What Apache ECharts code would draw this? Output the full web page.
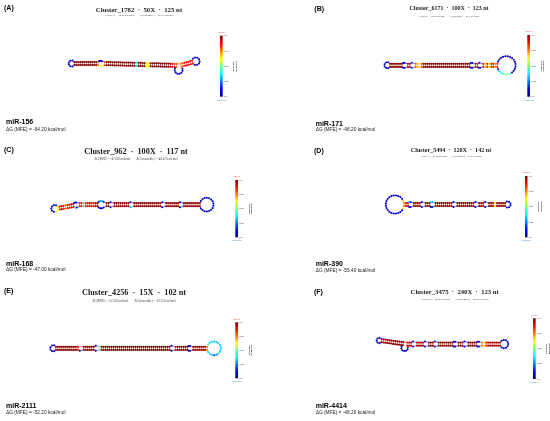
<!DOCTYPE html>
<html>
<head>
<meta charset="utf-8">
<title>Predicted precursor structures</title>
<script src="https://cdn.jsdelivr.net/npm/echarts@6/dist/echarts.min.js"></script>
<style>
  html, body { margin: 0; padding: 0; background: #fff; }
  #chart { width: 550px; height: 421px; }
</style>
</head>
<body>
<div id="chart"></div>
<script>
// ---- data ----
const panelLetters = ['(A)', '(B)', '(C)', '(D)', '(E)', '(F)'];
const mirNames = ['miR-156', 'miR-171', 'miR-168', 'miR-390', 'miR-2111', 'miR-4414'];
const clusters = ['Cluster_1782', 'Cluster_6171', 'Cluster_962', 'Cluster_5494', 'Cluster_4256', 'Cluster_3475'];
const depths = ['50X', '100X', '100X', '120X', '15X', '240X'];
const lengths = [125, 123, 117, 142, 102, 123];
const mfe = ['-64.20', '-48.20', '-47.00', '-55.40', '-52.20', '-48.20'];
const ensemble = ['-66.21', '-49.96', '-48.47', '-57.21', '-53.23', '-49.95'];
const barTicks = [0, 0.25, 0.5, 0.75, 1];
const barTickLabels = ['0.0', '0.25', '0.50', '0.75', '1.0'];

// structures, left to right along the helix
// ['end', nts, prob, {i: prob}]  ['stem', pairs, angle, prob, {i: prob}]
// ['loop', top nts, bottom nts, prob, {i: prob}]  ['side', nts, radius, prob]
const structA = [
  ['end', 6, 0.08],
  ['stem', 13, 0, 0.99, {12: 0.75}],
  ['loop', 4, 1, 0.08, {4: 0.62}],
  ['stem', 37, 1.5, 0.99, {0: 0.8, 16: 0.4, 21: 0.62, 22: 0.62, 34: 0.85, 35: 0.8, 36: 0.8}],
  ['side', 8, 4, 0.08],
  ['stem', 7, -15, 0.86, {0: 0.75, 1: 0.8}],
  ['end', 8, 0.08]
];
const structB = [
  ['end', 6, 0.08],
  ['stem', 7, 0, 0.99],
  ['loop', 2, 2, 0.1],
  ['stem', 2, 0, 0.95],
  ['loop', 1, 1, 0.15],
  ['stem', 28, 0, 0.99, {0: 0.8, 1: 0.7, 2: 0.62, 3: 0.8}],
  ['loop', 2, 2, 0.1],
  ['stem', 2, 0, 0.92],
  ['loop', 1, 2, 0.12],
  ['stem', 8, 0, 0.86, {1: 0.7, 3: 0.65, 6: 0.75}],
  ['end', 22, 0.08, {15: 0.45, 16: 0.5, 17: 0.5, 18: 0.45, 19: 0.4, 20: 0.35}]
];
const structC = [
  ['end', 7, 0.08, {6: 0.6}],
  ['stem', 9, -10, 0.86, {0: 0.62, 2: 0.95, 4: 0.75, 7: 0.95}],
  ['loop', 3, 2, 0.1, {3: 0.35}],
  ['stem', 10, 0, 0.86, {2: 0.4, 5: 0.95, 8: 0.97, 9: 0.97}],
  ['loop', 4, 4, 0.08, {1: 0.3, 2: 0.3}],
  ['stem', 2, 0, 0.98],
  ['loop', 1, 1, 0.08],
  ['stem', 8, 0, 0.98],
  ['loop', 1, 1, 0.08, {1: 0.3}],
  ['stem', 14, 0, 0.98],
  ['loop', 1, 1, 0.08],
  ['stem', 7, 0, 0.98],
  ['loop', 1, 1, 0.08],
  ['stem', 9, 0, 0.98],
  ['end', 16, 0.08]
];
const structD = [
  ['end', 22, 0.08, {0: 0.7, 21: 0.62}],
  ['stem', 3, 0, 0.92, {0: 0.75}],
  ['loop', 2, 2, 0.1, {0: 0.35}],
  ['stem', 4, 0, 0.98],
  ['loop', 1, 1, 0.08],
  ['stem', 3, 0, 0.98],
  ['loop', 2, 2, 0.1, {0: 0.35, 1: 0.3}],
  ['stem', 9, 0, 0.98],
  ['loop', 1, 1, 0.08],
  ['stem', 9, 0, 0.98],
  ['loop', 1, 1, 0.08],
  ['stem', 3, 0, 0.98],
  ['loop', 1, 1, 0.08],
  ['stem', 9, 0, 0.98, {3: 0.62}],
  ['end', 6, 0.08]
];
const structE = [
  ['end', 6, 0.05],
  ['stem', 12, 0, 0.99, {11: 0.88}],
  ['loop', 0, 1, 0.06],
  ['stem', 6, 0, 0.99],
  ['loop', 1, 1, 0.05],
  ['stem', 36, 0, 0.99, {0: 0.48}],
  ['loop', 1, 1, 0.06],
  ['stem', 7, 0, 0.99, {0: 0.88}],
  ['loop', 2, 2, 0.05],
  ['stem', 8, 0, 0.98, {7: 0.75}],
  ['end', 16, 0.33, {0: 0.45, 11: 0.25, 12: 0.2, 13: 0.3}]
];
const structF = [
  ['end', 5, 0.08],
  ['stem', 12, 8, 0.98],
  ['side', 7, 3.3, 0.08],
  ['stem', 3, 0, 0.92, {0: 0.85}],
  ['loop', 1, 1, 0.1],
  ['stem', 4, 0, 0.95],
  ['loop', 1, 1, 0.1],
  ['stem', 3, 0, 0.98],
  ['loop', 1, 1, 0.1],
  ['stem', 8, 0, 0.98],
  ['loop', 2, 2, 0.1],
  ['stem', 3, 0, 0.98],
  ['loop', 1, 1, 0.1],
  ['stem', 5, 0, 0.98],
  ['loop', 2, 2, 0.1],
  ['stem', 10, 0, 0.95, {0: 0.75, 1: 0.65, 2: 0.85}],
  ['end', 9, 0.08]
];
const structures = [structA, structB, structC, structD, structE, structF];

// ---- page layout (pixels) ----
const anchors = [[73.3, 63.5], [389, 65.3], [56.7, 208.5], [403, 204.5], [54.9, 348.3], [380.4, 340.5]];
const barBoxes = [[220, 35.7, 2.7, 61], [527.3, 35, 2.7, 61.7], [235.3, 180, 2.7, 57.3],
  [525, 176, 2.5, 61.3], [235.3, 322.3, 2.7, 56], [533, 318.3, 2.7, 60.7]];
const letterPos = [[4, 8.3], [314.3, 9], [4, 150], [314, 150.7], [4, 290.7], [314, 291.7]];
const titlePos = [[139, 10, 6.8], [449, 8.7, 6.0], [136, 152.3, 8.2], [451, 150.7, 6.1], [134, 293.3, 8.2], [454.7, 292.7, 6.7]];
const subY = [15.7, 16, 159.3, 156.7, 301, 299];
const mirPos = [[6, 121.7, 129.3], [315.7, 124, 130], [6, 264, 270], [315.7, 264, 271], [6, 406, 412.3], [315.7, 406, 412.7]];

const JET = ['#00007f', '#0000ff', '#007fff', '#00ffff', '#7fff7f', '#ffff00', '#ff7f00', '#ff0000', '#7f0000'];
const PAIR = 2.0, HALF = 1.6, LOOP_STEP = 2.4;

function loopRadius (n) {
  return Math.max(HALF + 0.9, (n + 2) * LOOP_STEP / (2 * Math.PI));
}

// walk along the helix and place nucleotides
function layoutStructure (struct) {
  const nodes = [];
  const rungs = [];
  const top = [];
  const bottom = [];
  let leftArc = [];
  let rightArc = [];
  let px = 0, py = 0, th = 0;
  function at (u, v) {
    const c = Math.cos(th), s = Math.sin(th);
    return [px + u * c + v * s, py + u * s - v * c];
  }
  function onCircle (cc, r, phi) {
    const c = Math.cos(th), s = Math.sin(th);
    const u = r * Math.cos(phi), v = r * Math.sin(phi);
    return [cc[0] + u * c + v * s, cc[1] + u * s - v * c];
  }
  function add (p, pt) {
    nodes.push([p, pt[0], pt[1]]);
    return nodes.length - 1;
  }
  const pick = (ov, i, p) => (ov && ov[i] !== undefined ? ov[i] : p);

  struct.forEach(function (el, idx) {
    const kind = el[0];
    if (kind === 'end') {
      const n = el[1], p = el[2], ov = el[3];
      const r = loopRadius(n), a = Math.asin(Math.min(0.95, HALF / r));
      const first = idx === 0;
      const cc = at(first ? PAIR / 2 - r * Math.cos(a) : -PAIR / 2 + r * Math.cos(a), 0);
      const arc = [];
      for (let k = 0; k < n; k++) {
        const step = (k + 1) * (2 * Math.PI - 2 * a) / (n + 1);
        const phi = first ? a + step : (Math.PI - a) - step;
        arc.push(add(pick(ov, k, p), onCircle(cc, r, phi)));
      }
      if (first) leftArc = arc; else rightArc = arc;
    } else if (kind === 'stem') {
      const n = el[1], p = el[3], ov = el[4];
      th = el[2] * Math.PI / 180;
      for (let i = 0; i < n; i++) {
        const q = pick(ov, i, p);
        const t = add(q, at((i + 0.5) * PAIR, HALF));
        const b = add(q, at((i + 0.5) * PAIR, -HALF));
        top.push(t);
        bottom.push(b);
        rungs.push([t, b]);
      }
      [px, py] = at(n * PAIR, 0);
    } else if (kind === 'loop') {
      const nT = el[1], nB = el[2], p = el[3], ov = el[4];
      const r = loopRadius(nT + nB), a = Math.asin(Math.min(0.95, HALF / r));
      const uc = -PAIR / 2 + r * Math.cos(a);
      const cc = at(uc, 0);
      for (let k = 0; k < nT; k++) {
        const phi = (Math.PI - a) - (k + 1) * (Math.PI - 2 * a) / (nT + 1);
        top.push(add(pick(ov, k, p), onCircle(cc, r, phi)));
      }
      for (let k = 0; k < nB; k++) {
        const phi = -(Math.PI - a) + (k + 1) * (Math.PI - 2 * a) / (nB + 1);
        bottom.push(add(pick(ov, nT + k, p), onCircle(cc, r, phi)));
      }
      [px, py] = at(uc + r * Math.cos(a) + PAIR / 2, 0);
    } else if (kind === 'side') {
      const n = el[1], r = el[2], p = el[3];
      const s = 0.3 * r;
      const a1 = at(-PAIR / 2, -HALF);
      const cc = at(s, -(HALF + 0.7 * r));
      const p2 = at(2 * s, 0);
      const th2 = struct[idx + 1][2] * Math.PI / 180;
      const a2 = [p2[0] + PAIR / 2 * Math.cos(th2) - HALF * Math.sin(th2),
        p2[1] + PAIR / 2 * Math.sin(th2) + HALF * Math.cos(th2)];
      const f1 = Math.atan2(a1[1] - cc[1], a1[0] - cc[0]);
      const f2 = Math.atan2(a2[1] - cc[1], a2[0] - cc[0]);
      const span = 2 * Math.PI - (f2 - f1);
      for (let k = 0; k < n; k++) {
        const f = f1 - (k + 1) * span / (n + 1);
        bottom.push(add(p, [cc[0] + r * Math.cos(f), cc[1] + r * Math.sin(f)]));
      }
      [px, py] = p2;
    }
  });

  const cycle = top.concat(rightArc, bottom.slice().reverse(), leftArc.slice().reverse());
  const links = [];
  for (let i = 0; i < cycle.length; i++) {
    const na = nodes[cycle[i]], nb = nodes[cycle[(i + 1) % cycle.length]];
    links.push([Math.min(na[0], nb[0]), na[1], na[2], nb[1], nb[2]]);
  }
  rungs.forEach(function (r) {
    const na = nodes[r[0]], nb = nodes[r[1]];
    links.push([na[0], na[1], na[2], nb[1], nb[2]]);
  });
  return { nodes: nodes, links: links };
}

const hidden = { show: false };
const grid = [], xAxis = [], yAxis = [], series = [], graphic = [];
const colouredSeries = [];

structures.forEach(function (struct, i) {
  const lay = layoutStructure(struct);
  const ax = anchors[i];
  const g = grid.length;
  grid.push({ left: ax[0] - 30, top: ax[1] - 25, width: 200, height: 50, outerBoundsMode: 'none' });
  const sx = xAxis.length, sy = yAxis.length;
  xAxis.push({ gridIndex: g, type: 'value', min: -30, max: 170, show: false });
  yAxis.push({ gridIndex: g, type: 'value', min: -25, max: 25, inverse: true, show: false });
  colouredSeries.push(series.length);
  series.push({
    type: 'custom',
    xAxisIndex: sx,
    yAxisIndex: sy,
    data: lay.links,
    encode: { x: [1, 3], y: [2, 4] },
    silent: true,
    renderItem: function (params, api) {
      const a = api.coord([api.value(1), api.value(2)]);
      const b = api.coord([api.value(3), api.value(4)]);
      return {
        type: 'line',
        shape: { x1: a[0], y1: a[1], x2: b[0], y2: b[1] },
        style: { stroke: api.visual('color'), lineWidth: 0.5 }
      };
    }
  });
  colouredSeries.push(series.length);
  series.push({
    type: 'scatter',
    xAxisIndex: sx,
    yAxisIndex: sy,
    data: lay.nodes,
    encode: { x: 1, y: 2 },
    symbolSize: 2,
    silent: true,
    itemStyle: { opacity: 1 }
  });

  // colour bar
  const bb = barBoxes[i];
  const cg = grid.length;
  grid.push({ left: bb[0], top: bb[1], width: bb[2], height: bb[3], outerBoundsMode: 'none' });
  const catAxis = {
    gridIndex: cg, type: 'category', data: ['p'],
    axisLine: hidden, axisTick: hidden, axisLabel: hidden, splitLine: hidden,
    nameLocation: 'middle'
  };
  const cx = xAxis.length;
  xAxis.push(Object.assign({}, catAxis, {
    position: 'top', name: 'paired', nameGap: 2.2,
    nameTextStyle: { color: '#e8504a', fontSize: 2.4 }
  }));
  xAxis.push(Object.assign({}, catAxis, {
    position: 'bottom', name: 'unpaired', nameGap: 2.4,
    nameTextStyle: { color: '#3a8fd6', fontSize: 2.4 }
  }));
  const cy = yAxis.length;
  yAxis.push({
    gridIndex: cg, type: 'value', min: 0, max: 1, interval: 0.25, position: 'right',
    axisLine: hidden, splitLine: hidden,
    axisTick: { show: true, length: 0.8, lineStyle: { color: '#333', width: 0.3 } },
    axisLabel: { fontSize: 2.4, margin: 1.2, color: '#333',
      formatter: v => barTickLabels[barTicks.indexOf(v)] },
    name: 'Base-pair\nprobability', nameLocation: 'middle', nameGap: 8,
    nameTextStyle: { fontSize: 2.2, fontWeight: 'bold', color: '#333', lineHeight: 2.6 }
  });
  series.push({
    type: 'custom',
    xAxisIndex: cx,
    yAxisIndex: cy,
    data: [[0, 1]],
    silent: true,
    renderItem: function (params, api) {
      const hi = api.coord([0, 1]);
      const lo = api.coord([0, 0]);
      const w = api.size([1, 0])[0];
      return {
        type: 'rect',
        shape: { x: hi[0] - w / 2, y: hi[1], width: w, height: lo[1] - hi[1] },
        style: {
          fill: new echarts.graphic.LinearGradient(0, 1, 0, 0,
            JET.map((c, k) => ({ offset: k / (JET.length - 1), color: c })))
        }
      };
    }
  });

  // texts
  const sans = '"Liberation Sans", Arial, sans-serif';
  const serif = '"Liberation Serif", "Times New Roman", serif';
  graphic.push({ type: 'text', x: letterPos[i][0], y: letterPos[i][1], silent: true,
    style: { text: panelLetters[i], fontFamily: sans, fontWeight: 'bold', fontSize: 7, fill: '#000',
      align: 'left', verticalAlign: 'middle' } });
  const tp = titlePos[i];
  graphic.push({ type: 'text', x: tp[0], y: tp[1], silent: true,
    style: { text: clusters[i] + '  \u00b7  ' + depths[i] + '  \u00b7  ' + lengths[i] + ' nt',
      fontFamily: serif, fontWeight: 'bold', fontSize: tp[2], fill: '#222',
      align: 'center', verticalAlign: 'middle' } });
  graphic.push({ type: 'text', x: tp[0], y: subY[i], silent: true,
    style: { text: '\u0394G(MFE) = ' + mfe[i] + ' kcal/mol        \u0394G(ensemble) = ' + ensemble[i] + ' kcal/mol',
      fontFamily: serif, fontSize: tp[2] * 0.38, fill: '#444',
      align: 'center', verticalAlign: 'middle' } });
  const mp = mirPos[i];
  graphic.push({ type: 'text', x: mp[0], y: mp[1], silent: true,
    style: { text: mirNames[i], fontFamily: sans, fontWeight: 'bold', fontSize: 7, fill: '#000',
      align: 'left', verticalAlign: 'middle' } });
  graphic.push({ type: 'text', x: mp[0], y: mp[2], silent: true,
    style: { text: '\u0394G (MFE) = ' + mfe[i] + ' kcal/mol', fontFamily: sans, fontSize: 4.8, fill: '#222',
      align: 'left', verticalAlign: 'middle' } });
});

const chart = echarts.init(document.getElementById('chart'));
chart.setOption({
  animation: false,
  backgroundColor: '#fff',
  grid: grid,
  xAxis: xAxis,
  yAxis: yAxis,
  visualMap: {
    type: 'continuous',
    show: false,
    min: 0,
    max: 1,
    dimension: 0,
    seriesIndex: colouredSeries,
    inRange: { color: JET }
  },
  series: series,
  graphic: graphic
});
</script>
</body>
</html>
